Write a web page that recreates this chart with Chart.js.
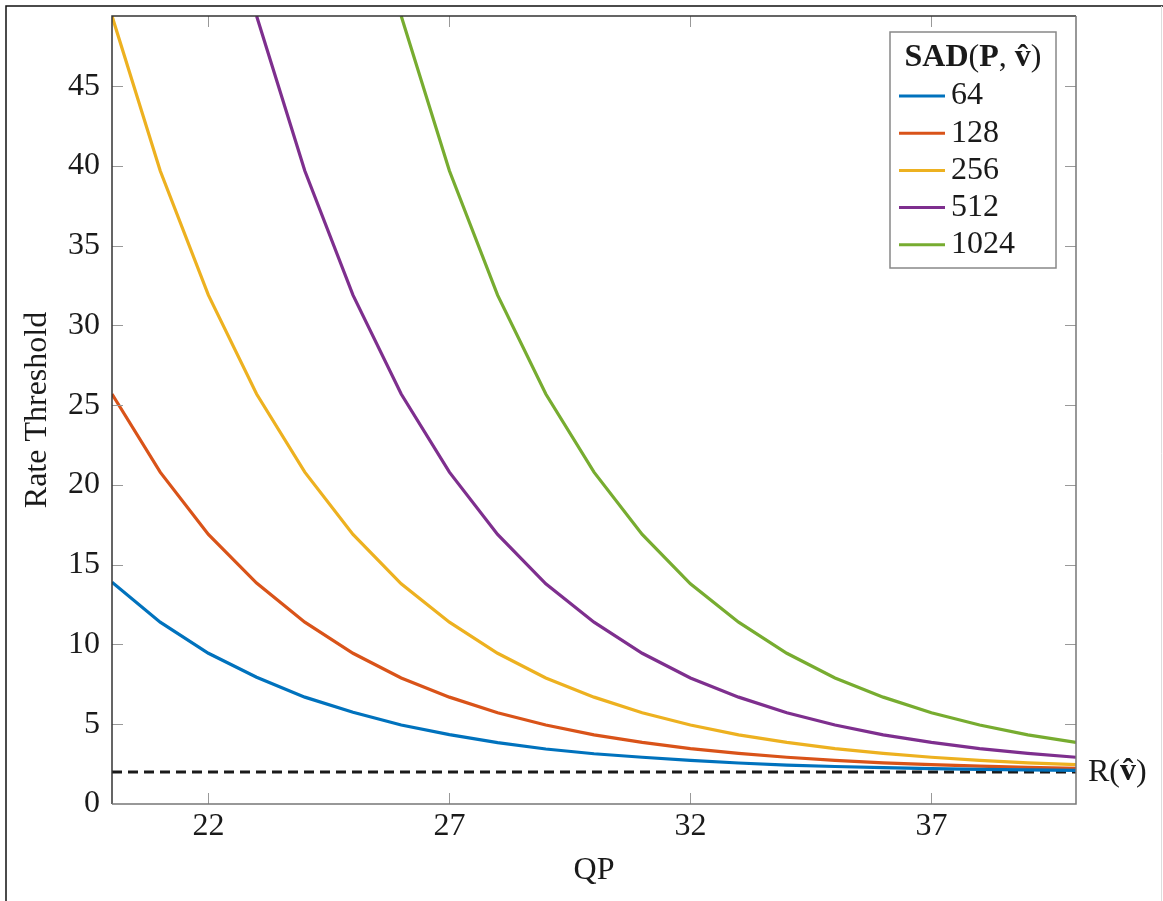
<!DOCTYPE html>
<html>
<head>
<meta charset="utf-8">
<title>Rate Threshold vs QP</title>
<script src="https://cdn.jsdelivr.net/npm/chart.js@4.4.0/dist/chart.umd.min.js"></script>
<style>
  html, body { margin: 0; padding: 0; background: #fff; }
  canvas { display: block; }
</style>
</head>
<body>
<canvas id="rateChart" width="1163" height="901"></canvas>
<script>
// QP values on the x axis
const qpValues = [20, 21, 22, 23, 24, 25, 26, 27, 28, 29, 30, 31, 32, 33, 34, 35, 36, 37, 38, 39, 40];

// one rate threshold curve per SAD(P, v) value; null = above the plotted range
const sadLabels = ['64', '128', '256', '512', '1024'];
const sad64   = [13.9, 11.4, 9.45, 7.95, 6.7, 5.75, 4.95, 4.35, 3.85, 3.45, 3.15, 2.93, 2.73, 2.57, 2.44, 2.35, 2.28, 2.22, 2.17, 2.14, 2.11];
const sad128  = [25.7, 20.8, 16.9, 13.85, 11.4, 9.45, 7.9, 6.7, 5.72, 4.95, 4.33, 3.86, 3.47, 3.17, 2.93, 2.73, 2.58, 2.47, 2.37, 2.29, 2.23];
const sad256  = [49.4, 39.7, 31.9, 25.7, 20.8, 16.9, 13.8, 11.4, 9.45, 7.9, 6.7, 5.72, 4.95, 4.33, 3.86, 3.47, 3.17, 2.93, 2.74, 2.58, 2.47];
const sad512  = [null, null, null, 49.4, 39.7, 31.9, 25.7, 20.8, 16.9, 13.8, 11.4, 9.45, 7.9, 6.7, 5.72, 4.95, 4.33, 3.86, 3.47, 3.17, 2.93];
const sad1024 = [null, null, null, null, null, null, 49.4, 39.7, 31.9, 25.7, 20.8, 16.9, 13.8, 11.4, 9.45, 7.9, 6.7, 5.72, 4.95, 4.33, 3.86];

// rate of the motion vector, drawn as the dashed floor
const rateR = 2;

// tick labels
const xTickValues = [22, 27, 32, 37];
const yTickValues = [0, 5, 10, 15, 20, 25, 30, 35, 40, 45];

const lineColors = ['#0072BD', '#D95319', '#EDB120', '#7E2F8E', '#77AC30'];
const FONT = '"Liberation Serif", "Times New Roman", serif';
const TEXT = '#1a1a1a';

document.addEventListener('DOMContentLoaded', function() {
    const series = [sad64, sad128, sad256, sad512, sad1024];

    const datasets = series.map((values, i) => ({
        label: sadLabels[i],
        data: qpValues.map((q, j) => ({ x: q, y: values[j] })),
        borderColor: lineColors[i],
        borderWidth: 3.2,
        pointRadius: 0,
        tension: 0,
        clip: 0
    }));

    datasets.push({
        label: 'R',
        data: [{ x: qpValues[0], y: rateR }, { x: qpValues[qpValues.length - 1], y: rateR }],
        borderColor: '#1a1a1a',
        borderWidth: 3,
        borderDash: [10, 6],
        pointRadius: 0,
        clip: 0
    });

    // writes a run of regular/bold pieces; a piece with hat gets a circumflex on top
    function drawRich(ctx, parts, x, y, center) {
        const fontOf = p => (p.bold ? 'bold ' : '') + '32px ' + FONT;
        let total = 0;
        parts.forEach(p => { ctx.font = fontOf(p); total += ctx.measureText(p.t).width; });
        let cx = center ? x - total / 2 : x;
        ctx.textAlign = 'left';
        ctx.textBaseline = 'middle';
        parts.forEach(p => {
            ctx.font = fontOf(p);
            const w = ctx.measureText(p.t).width;
            ctx.fillText(p.t, cx, y);
            if (p.hat) {
                ctx.textAlign = 'center';
                ctx.fillText('\u02C6', cx + w / 2, y);
                ctx.textAlign = 'left';
            }
            cx += w;
        });
    }

    const framePlugin = {
        id: 'frame',
        afterDraw(chart) {
            const ctx = chart.ctx;
            const { left, right, top, bottom } = chart.chartArea;
            const xs = chart.scales.x, ys = chart.scales.y;
            ctx.save();

            // outer border of the figure
            ctx.strokeStyle = '#111';
            ctx.lineWidth = 1.5;
            ctx.beginPath();
            ctx.moveTo(6, 901); ctx.lineTo(6, 6); ctx.lineTo(1163, 6);
            ctx.stroke();
            ctx.strokeStyle = '#ddd';
            ctx.lineWidth = 1;
            ctx.beginPath();
            ctx.moveTo(1161.5, 6); ctx.lineTo(1161.5, 901);
            ctx.stroke();

            // inward tick marks on all four sides
            ctx.strokeStyle = '#999';
            ctx.lineWidth = 1;
            ctx.beginPath();
            xTickValues.forEach(v => {
                const px = Math.round(xs.getPixelForValue(v)) + 0.5;
                ctx.moveTo(px, bottom); ctx.lineTo(px, bottom - 11);
                ctx.moveTo(px, top); ctx.lineTo(px, top + 11);
            });
            yTickValues.forEach(v => {
                if (v === 0) return;
                const py = Math.round(ys.getPixelForValue(v)) + 0.5;
                ctx.moveTo(left, py); ctx.lineTo(left + 11, py);
                ctx.moveTo(right, py); ctx.lineTo(right - 11, py);
            });
            ctx.stroke();

            // axis box
            ctx.lineWidth = 1.5;
            ctx.strokeStyle = '#333';
            ctx.beginPath();
            ctx.moveTo(left, bottom); ctx.lineTo(left, top); ctx.lineTo(right, top);
            ctx.stroke();
            ctx.strokeStyle = '#777';
            ctx.beginPath();
            ctx.moveTo(right, top); ctx.lineTo(right, bottom); ctx.lineTo(left, bottom);
            ctx.stroke();

            // label of the dashed line
            ctx.fillStyle = TEXT;
            drawRich(ctx, [{ t: 'R(' }, { t: 'v', bold: true, hat: true }, { t: ')' }],
                1088, ys.getPixelForValue(rateR), false);

            // legend box
            const lx = 890, ly = 32, lw = 166, lh = 236;
            ctx.fillStyle = '#fff';
            ctx.fillRect(lx, ly, lw, lh);
            ctx.strokeStyle = '#888';
            ctx.lineWidth = 1.5;
            ctx.strokeRect(lx, ly, lw, lh);
            ctx.fillStyle = TEXT;
            drawRich(ctx, [
                { t: 'SAD', bold: true }, { t: '(' }, { t: 'P', bold: true }, { t: ', ' },
                { t: 'v', bold: true, hat: true }, { t: ')' }
            ], lx + lw / 2, 58, true);
            chart.data.datasets.slice(0, sadLabels.length).forEach((ds, i) => {
                const y = 96 + i * 37.2;
                ctx.strokeStyle = ds.borderColor;
                ctx.lineWidth = 3;
                ctx.setLineDash([]);
                ctx.beginPath();
                ctx.moveTo(899, y); ctx.lineTo(945, y);
                ctx.stroke();
                ctx.fillStyle = TEXT;
                ctx.font = '32px ' + FONT;
                ctx.textAlign = 'left';
                ctx.textBaseline = 'middle';
                ctx.fillText(ds.label, 951, y);
            });
            ctx.restore();
        }
    };

    const ctx = document.getElementById('rateChart').getContext('2d');
    new Chart(ctx, {
        type: 'line',
        data: { datasets: datasets },
        plugins: [framePlugin],
        options: {
            responsive: false,
            animation: false,
            layout: { padding: { top: 16, right: 87, bottom: 0, left: 0 } },
            plugins: {
                legend: { display: false },
                tooltip: { enabled: false }
            },
            scales: {
                x: {
                    type: 'linear',
                    min: 20,
                    max: 40,
                    grid: { display: false, drawTicks: false },
                    border: { display: false },
                    afterBuildTicks: s => { s.ticks = xTickValues.map(v => ({ value: v })); },
                    afterFit: s => { s.height = 97; s.paddingLeft = 0; s.paddingRight = 0; },
                    ticks: {
                        color: TEXT,
                        font: { family: FONT, size: 32 },
                        padding: 3,
                        maxRotation: 0,
                        autoSkip: false
                    },
                    title: {
                        display: true,
                        text: 'QP',
                        color: TEXT,
                        font: { family: FONT, size: 32 },
                        padding: 11
                    }
                },
                y: {
                    min: 0,
                    max: 49.4,
                    grid: { display: false, drawTicks: false },
                    border: { display: false },
                    afterBuildTicks: s => { s.ticks = yTickValues.map(v => ({ value: v })); },
                    afterFit: s => { s.width = 112; s.paddingTop = 0; s.paddingBottom = 0; },
                    ticks: {
                        color: TEXT,
                        font: { family: FONT, size: 32 },
                        padding: 12
                    },
                    title: {
                        display: true,
                        text: 'Rate Threshold',
                        color: TEXT,
                        font: { family: FONT, size: 32 },
                        padding: 18
                    }
                }
            }
        }
    });
});
</script>
</body>
</html>
